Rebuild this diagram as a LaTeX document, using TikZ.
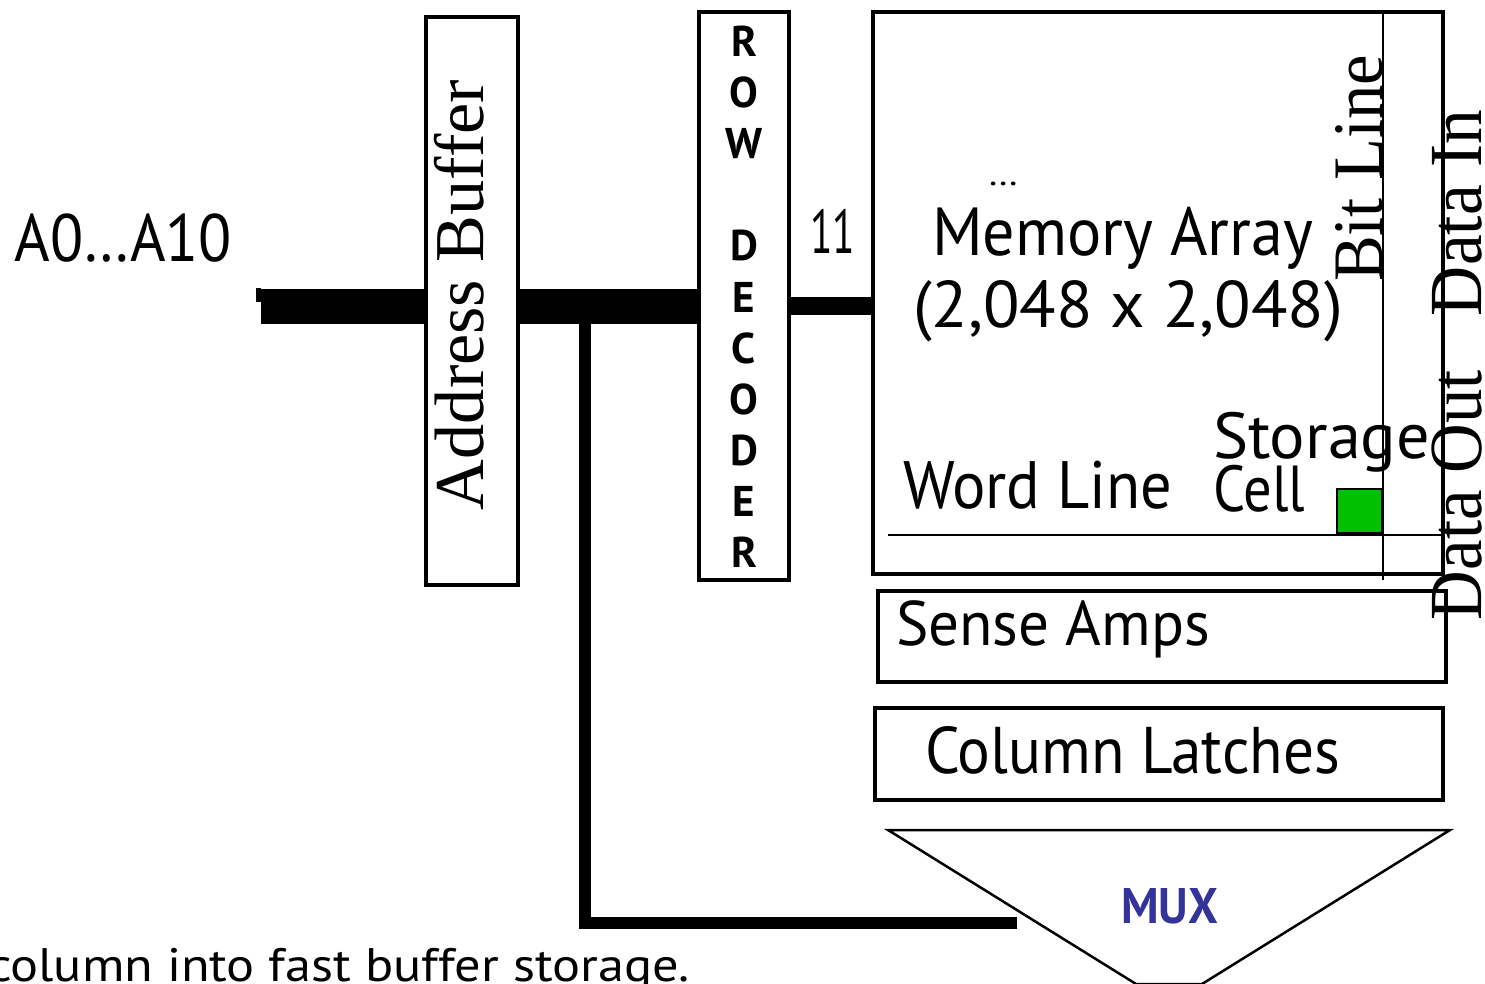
\documentclass[tikz,border=0pt]{standalone}
\usepackage{fontspec}
\usepackage{graphicx}
\newfontfamily\comic{PT Sans}
\newfontfamily\tms{Liberation Serif}
\newcommand\fsz[1]{\fontsize{#1pt}{#1pt}\selectfont}
\newcommand\fitw[2]{\resizebox{#1pt}{\height}{#2}}
\definecolor{cellgreen}{RGB}{0,192,0}
\definecolor{muxblue}{RGB}{51,51,153}
\tikzset{
  box/.style={draw, line width=4pt, inner sep=0pt, fill=none},
  t/.style={inner sep=0pt, outer sep=0pt, anchor=base west, font=\comic},
  s/.style={inner sep=0pt, outer sep=0pt, anchor=base west, font=\tms, rotate=90},
  rdl/.style={inner sep=0pt, outer sep=0pt, anchor=base, font=\comic\bfseries\fsz{43}},
  bus/.style={line width=35pt},
  thinl/.style={line width=2pt},
}
\begin{document}
\begin{tikzpicture}[x=1pt, y=-1pt]
\useasboundingbox (0,0) rectangle (1485,984);
\clip (0,0) rectangle (1485,984);

% boxes
\node[box, minimum width=92pt, minimum height=568pt] (ab) at (471.5,301) {};
\node[box, minimum width=90pt, minimum height=568pt] (rd) at (744,296) {};
\node[box, minimum width=570pt, minimum height=562pt] (mem) at (1158,293) {};
\node[box, minimum width=568pt, minimum height=91pt] (sa) at (1162,636.5) {};
\node[box, minimum width=568pt, minimum height=92pt] (cl) at (1159,754) {};

% address bus
\coordinate (busstart) at (261,306.5);
\coordinate (decout) at (790,306);
\fill (256,288) rectangle (261,302);
\draw[bus] (busstart) -- (ab.west |- busstart);
\draw[bus] (ab.east |- busstart) -- (rd.west |- busstart);
\draw[line width=18pt] (rd.east |- decout) -- (mem.west |- decout);
\coordinate (tap) at (585,324);
\coordinate (muxin) at (1017,923);
\draw[line width=12pt] (tap) |- (muxin);

% word line and bit line
\coordinate (wl0) at (888,535);
\coordinate (bl0) at (1383,12);
\coordinate (bl1) at (1383,580);
\draw[thinl] (wl0) -- (mem.east |- wl0);
\draw[thinl] (bl0) -- (bl1);
\node[draw, line width=2pt, fill=cellgreen, minimum width=45pt, minimum height=44pt, inner sep=0pt] (cell) at (1359.5,511) {};

% MUX
\coordinate (m1) at (888,830);
\coordinate (m2) at (1450,830);
\coordinate (m3) at (1202,984);
\coordinate (m4) at (1136,984);
\draw[line width=2.5pt, line join=miter] (m1) -- (m2) -- (m3) -- (m4) -- cycle;
\node[t, font=\comic\bfseries, text=muxblue] (mux) at (1121,923) {\fsz{50}\fitw{97}{MUX}};

% texts
\node[t] (addr) at (15,262) {\fsz{67}\fitw{217}{A0…A10}};
\node[t] (n11) at (810,254) {\fsz{62}\fitw{45}{11}};
\node[t] (dots) at (988,186) {\fsz{33}\fitw{30}{…}};
\node[t] (mema) at (932,255) {\fsz{68}\fitw{381}{Memory Array}};
\node[t] (memb) at (913,327) {\fsz{66}\fitw{430}{(2,048 x 2,048)}};
\node[t] (wl) at (903,508) {\fsz{67}\fitw{269}{Word Line}};
\node[t] (st) at (1213,458) {\fsz{65}\fitw{217}{Storage}};
\node[t] (ce) at (1213,511) {\fsz{65}\fitw{92}{Cell}};
\node[t] (sat) at (896,645) {\fsz{63}\fitw{314}{Sense Amps}};
\node[t] (clt) at (925,773) {\fsz{66}\fitw{415}{Column Latches}};
\node[t] (bot) at (-12,981) {\fsz{47}\fitw{702}{column into fast buffer storage.}};

% row decoder letters
\node[rdl] (r1) at (744,57) {R};
\node[rdl] (r2) at (744,108) {O};
\node[rdl] (r3) at (744,159) {W};
\node[rdl] (r4) at (744,261) {D};
\node[rdl] (r5) at (744,312) {E};
\node[rdl] (r6) at (744,363) {C};
\node[rdl] (r7) at (744,414) {O};
\node[rdl] (r8) at (744,465) {D};
\node[rdl] (r9) at (744,516) {E};
\node[rdl] (r10) at (744,567) {R};

% rotated serif labels
\node[s] (abt) at (483,510) {\fsz{70}\fitw{430}{Address Buffer}};
\node[s] (blt) at (1382,282) {\fsz{71}\fitw{227}{Bit Line}};
\node[s] (dot) at (1481,620) {\fsz{75}\fitw{250}{Data Out}};
\node[s] (dit) at (1481,316) {\fsz{75}\fitw{206}{Data In}};
\end{tikzpicture}
\end{document}
